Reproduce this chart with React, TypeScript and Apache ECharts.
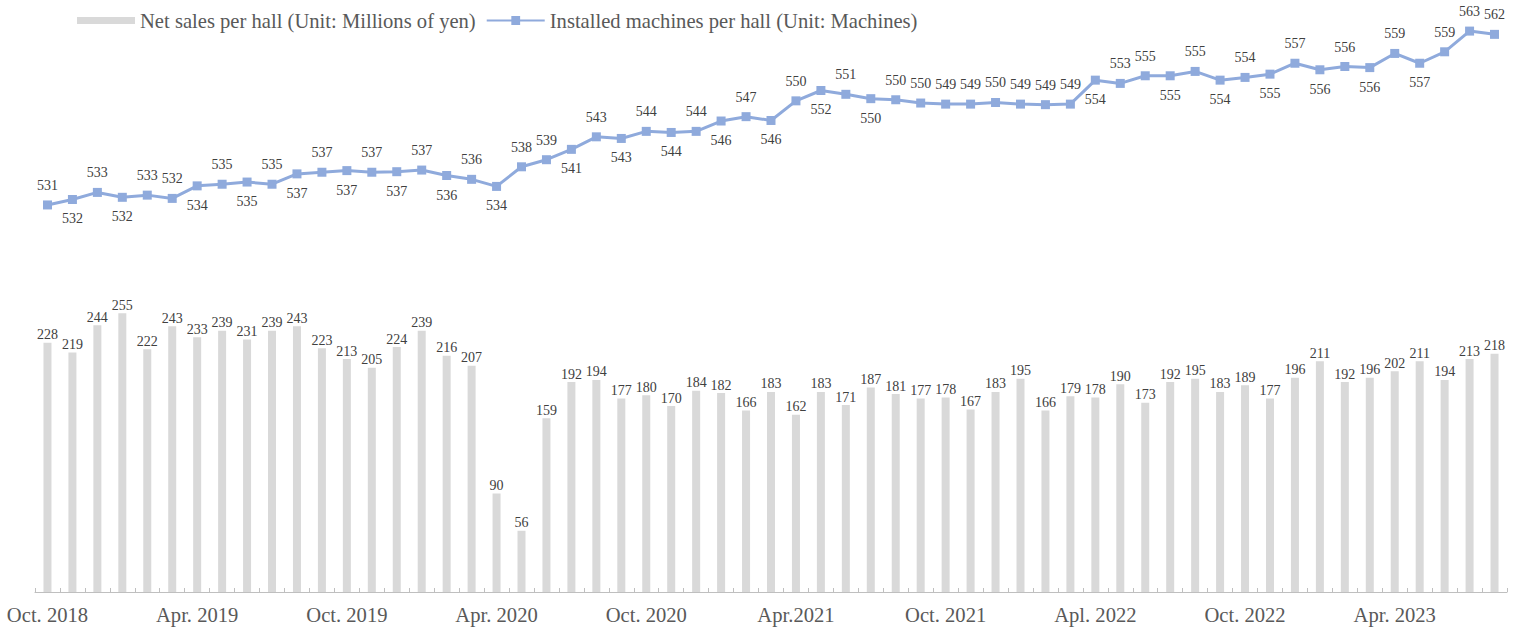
import React, { useEffect, useRef } from "react";
import * as echarts from "echarts";

const categories = [
  "Oct. 2018", "Nov. 2018", "Dec. 2018", "Jan. 2019", "Feb. 2019", "Mar. 2019",
  "Apr. 2019", "May 2019", "Jun. 2019", "Jul. 2019", "Aug. 2019", "Sep. 2019",
  "Oct. 2019", "Nov. 2019", "Dec. 2019", "Jan. 2020", "Feb. 2020", "Mar. 2020",
  "Apr. 2020", "May 2020", "Jun. 2020", "Jul. 2020", "Aug. 2020", "Sep. 2020",
  "Oct. 2020", "Nov. 2020", "Dec. 2020", "Jan. 2021", "Feb. 2021", "Mar. 2021",
  "Apr.2021", "May 2021", "Jun. 2021", "Jul. 2021", "Aug. 2021", "Sep. 2021",
  "Oct. 2021", "Nov. 2021", "Dec. 2021", "Jan. 2022", "Feb. 2022", "Mar. 2022",
  "Apl. 2022", "May 2022", "Jun. 2022", "Jul. 2022", "Aug. 2022", "Sep. 2022",
  "Oct. 2022", "Nov. 2022", "Dec. 2022", "Jan. 2023", "Feb. 2023", "Mar. 2023",
  "Apr. 2023", "May 2023", "Jun. 2023", "Jul. 2023", "Aug. 2023",
];

const netSales = [
  228, 219, 244, 255, 222, 243, 233, 239, 231, 239, 243, 223,
  213, 205, 224, 239, 216, 207, 90, 56, 159, 192, 194, 177,
  180, 170, 184, 182, 166, 183, 162, 183, 171, 187, 181, 177,
  178, 167, 183, 195, 166, 179, 178, 190, 173, 192, 195, 183,
  189, 177, 196, 211, 192, 196, 202, 211, 194, 213, 218,
];

const machines = [
  530.9, 531.9, 533.2, 532.3, 532.7, 532.1, 534.4, 534.7, 535.1, 534.7, 536.6, 536.9,
  537.2, 536.9, 537.0, 537.3, 536.3, 535.6, 534.3, 537.9, 539.2, 541.1, 543.4, 543.1,
  544.4, 544.2, 544.4, 546.3, 547.1, 546.4, 550.0, 551.9, 551.2, 550.4, 550.2, 549.6,
  549.4, 549.4, 549.7, 549.4, 549.3, 549.4, 553.8, 553.2, 554.6, 554.6, 555.4, 553.8,
  554.3, 554.9, 556.9, 555.7, 556.3, 556.1, 558.7, 556.9, 559.0, 562.8, 562.2,
];

// label placement of the machines series: "t" above, "b" below
const machineLabelPos = [
  "t", "b", "t", "b", "t", "t", "b", "t", "b", "t", "b", "t",
  "b", "t", "b", "t", "b", "t", "b", "t", "t", "b", "t", "b",
  "t", "b", "t", "b", "t", "b", "t", "b", "t", "b", "t", "t",
  "t", "t", "t", "t", "t", "t", "b", "t", "t", "b", "t", "b",
  "t", "b", "t", "b", "t", "b", "t", "b", "t", "t", "t",
];

const seriesNames = [
  "Net sales per hall (Unit: Millions of yen)",
  "Installed machines per hall (Unit: Machines)",
];

const FONT = "'Liberation Serif', 'Times New Roman', serif";

export default function App() {
  const ref = useRef<HTMLDivElement>(null);

  useEffect(() => {
    if (!ref.current) return;
    const chart = echarts.init(ref.current, null, { renderer: "svg" });
    chart.setOption({
      animation: false,
      backgroundColor: "#ffffff",
      textStyle: { fontFamily: FONT },
      legend: {
        left: 72,
        top: 5,
        itemWidth: 58,
        itemHeight: 11,
        itemGap: 10,
        textStyle: { fontFamily: FONT, fontSize: 20.6, color: "#595959" },
        data: [
          { name: seriesNames[0], icon: "path://M0 0H58V7H0Z" },
          { name: seriesNames[1] },
        ],
      },
      grid: {
        left: 35,
        right: 11,
        top: 30,
        bottom: 40,
        containLabel: false,
        outerBoundsMode: "none",
      },
      xAxis: {
        type: "category",
        data: categories,
        boundaryGap: true,
        axisLine: { lineStyle: { color: "#bfbfbf", width: 1 } },
        axisTick: {
          show: true,
          inside: true,
          length: 4,
          interval: 0,
          lineStyle: { color: "#bfbfbf" },
        },
        axisLabel: {
          interval: 5,
          margin: 12,
          fontFamily: FONT,
          fontSize: 20.6,
          color: "#595959",
        },
      },
      yAxis: [
        { type: "value", min: 0, max: 514, show: false, splitLine: { show: false } },
        { type: "value", min: 459.88, max: 563, show: false, splitLine: { show: false } },
      ],
      series: [
        {
          name: seriesNames[0],
          type: "bar",
          yAxisIndex: 0,
          data: netSales,
          barWidth: 8,
          itemStyle: { color: "#d9d9d9" },
          label: {
            show: true,
            position: "top",
            distance: 1,
            fontFamily: FONT,
            fontSize: 14,
            color: "#404040",
          },
        },
        {
          name: seriesNames[1],
          type: "line",
          yAxisIndex: 1,
          symbol: "rect",
          symbolSize: 9,
          lineStyle: { color: "#8faadc", width: 3 },
          itemStyle: { color: "#8faadc" },
          label: {
            show: true,
            distance: 8,
            fontFamily: FONT,
            fontSize: 14,
            color: "#404040",
            formatter: (p: any) => String(Math.round(p.value)),
          },
          data: machines.map((v, i) => ({
            value: v,
            label: { position: machineLabelPos[i] === "t" ? "top" : "bottom" },
          })),
        },
      ],
    });
    return () => chart.dispose();
  }, []);

  return (
    <div
      ref={ref}
      style={{ position: "absolute", left: 0, top: 0, width: 1518, height: 632 }}
    />
  );
}
